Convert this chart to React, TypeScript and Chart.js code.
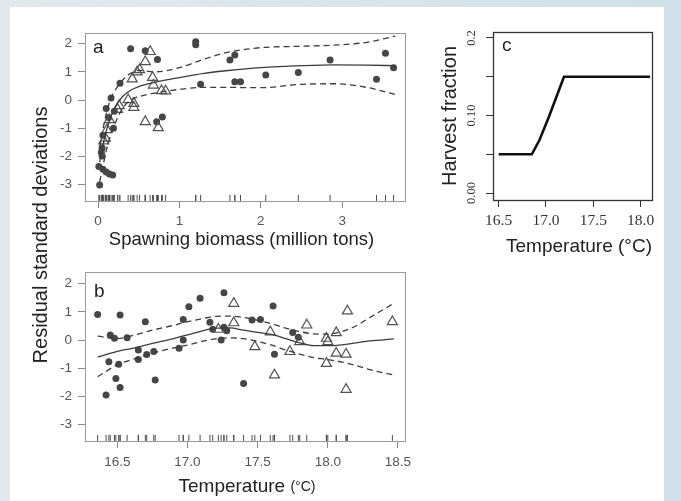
import React, { useEffect, useRef } from 'react';
import { Chart, registerables } from 'chart.js';

Chart.register(...registerables);

const SANS = "'Liberation Sans', Arial, Helvetica, sans-serif";
const SERIF = "'Liberation Serif', 'Times New Roman', serif";
Chart.defaults.font.family = SANS;

// ---------- Panel a: residuals vs spawning biomass ----------
const A_CIRC_X = [0.40, 0.58, 0.73, 0.27, 0.16, 0.10, 0.20, 0.13, 0.19, 0.06, 0.05, 0.04, 0.05, 0.01, 0.06, 0.10, 0.14, 0.18, 0.02, 0.72, 0.79, 1.20, 1.20, 1.26, 1.62, 1.68, 1.68, 1.75, 2.06, 2.46, 2.85, 3.42, 3.53, 3.63];
const A_CIRC_Y = [1.82, 1.75, 1.44, 0.60, 0.07, -0.30, -0.40, -0.62, -1.00, -1.25, -1.70, -1.85, -1.98, -2.36, -2.45, -2.55, -2.62, -2.66, -3.01, -0.77, -0.60, 2.07, 1.96, 0.56, 1.42, 1.60, 0.65, 0.65, 0.89, 0.98, 1.42, 0.74, 1.66, 1.15];
const A_TRI_X = [0.64, 0.58, 0.51, 0.48, 0.42, 0.67, 0.68, 0.78, 0.83, 0.37, 0.44, 0.44, 0.26, 0.24, 0.58, 0.74, 0.14, 0.11, 0.09, 0.07];
const A_TRI_Y = [1.72, 1.36, 1.08, 1.00, 0.75, 0.80, 0.53, 0.33, 0.32, 0.01, -0.12, -0.26, -0.20, -0.33, -0.77, -0.98, -0.70, -1.05, -1.35, -1.45];
const A_FIT_X = [0.02, 0.05, 0.10, 0.15, 0.20, 0.30, 0.40, 0.50, 0.70, 1.00, 1.30, 1.60, 2.00, 2.50, 2.90, 3.30, 3.65];
const A_FIT_Y = [-2.20, -1.75, -1.10, -0.65, -0.30, 0.12, 0.35, 0.48, 0.63, 0.80, 0.95, 1.05, 1.15, 1.22, 1.25, 1.24, 1.22];
const A_UPPER_Y = [-1.70, -1.20, -0.50, 0.00, 0.30, 0.70, 0.95, 1.05, 1.00, 1.15, 1.45, 1.70, 1.86, 1.91, 1.95, 2.05, 2.27];
const A_LOWER_Y = [-2.90, -2.50, -1.80, -1.30, -0.90, -0.30, 0.00, 0.12, 0.25, 0.38, 0.45, 0.45, 0.44, 0.56, 0.58, 0.45, 0.20];
const A_X_TICKS = [0, 1, 2, 3];
const RESID_TICKS = [-3, -2, -1, 0, 1, 2];
const RUG_Y = -3.47;

// ---------- Panel b: residuals vs temperature ----------
const B_CIRC_X = [16.36, 16.45, 16.48, 16.52, 16.44, 16.42, 16.49, 16.51, 16.52, 16.57, 16.65, 16.65, 16.70, 16.71, 16.76, 16.77, 16.94, 16.97, 16.97, 17.01, 17.09, 17.16, 17.18, 17.26, 17.24, 17.26, 17.28, 17.40, 17.46, 17.52, 17.61, 17.62, 17.75, 17.79];
const B_CIRC_Y = [0.91, 0.18, 0.06, 0.89, -0.77, -1.95, -1.36, -0.86, -1.68, 0.08, -0.35, -0.69, 0.65, -0.51, -0.41, -1.42, -0.29, 0.73, 0.00, 1.18, 1.48, 0.63, 0.38, 1.68, 0.00, 0.45, 0.33, -1.54, 0.71, 0.73, 1.21, -0.50, 0.27, 0.10];
const B_TRI_X = [17.22, 17.33, 17.33, 17.48, 17.59, 17.62, 17.73, 17.80, 17.85, 17.99, 18.00, 17.99, 18.06, 18.06, 18.13, 18.14, 18.13, 18.46];
const B_TRI_Y = [0.38, 1.30, 0.61, -0.24, 0.29, -1.24, -0.41, -0.06, 0.53, 0.06, -0.06, -0.83, 0.26, -0.47, -0.50, 1.03, -1.75, 0.65];
const B_FIT_X = [16.36, 16.50, 16.60, 16.75, 16.90, 17.00, 17.10, 17.20, 17.30, 17.40, 17.50, 17.60, 17.70, 17.80, 17.90, 18.00, 18.10, 18.20, 18.30, 18.47];
const B_FIT_Y = [-0.60, -0.40, -0.30, -0.12, 0.05, 0.18, 0.32, 0.42, 0.43, 0.35, 0.27, 0.20, 0.05, -0.10, -0.20, -0.20, -0.17, -0.10, -0.03, 0.04];
const B_UPPER_Y = [0.14, 0.05, 0.15, 0.35, 0.52, 0.65, 0.75, 0.84, 0.85, 0.80, 0.70, 0.58, 0.42, 0.30, 0.22, 0.21, 0.30, 0.50, 0.80, 1.30];
const B_LOWER_Y = [-1.30, -0.88, -0.70, -0.47, -0.28, -0.18, -0.05, 0.04, 0.08, 0.05, -0.05, -0.18, -0.35, -0.50, -0.62, -0.69, -0.78, -0.90, -1.05, -1.24];
const B_X_TICKS = [16.5, 17.0, 17.5, 18.0, 18.5];

// ---------- Panel c: harvest fraction vs temperature ----------
const C_X = [16.5, 16.85, 16.93, 17.03, 17.19, 18.1];
const C_Y = [0.05, 0.05, 0.068, 0.098, 0.15, 0.15];
const C_X_TICKS = [16.5, 17.0, 17.5, 18.0];
const C_Y_TICKS = [0, 0.05, 0.1, 0.15, 0.2];
const C_Y_LABELS = ['0.00', '', '0.10', '', '0.2'];

const pts = (xs: number[], ys: number[]) => xs.map((x, i) => ({ x, y: ys[i] }));
const rug = (xs: number[]) => xs.map((x) => ({ x, y: RUG_Y }));

const framePlugin = (color: string, width: number) => ({
  id: 'frame',
  afterDatasetsDraw(chart: any) {
    const { ctx, chartArea } = chart;
    const { left, top, right, bottom } = chartArea;
    ctx.save();
    ctx.strokeStyle = color;
    ctx.lineWidth = width;
    ctx.strokeRect(Math.round(left) + 0.5, Math.round(top) + 0.5, Math.round(right - left), Math.round(bottom - top));
    ctx.restore();
  },
});

const panelLabel = (text: string, dx: number, dy: number) => ({
  id: 'panelLabel',
  afterDraw(chart: any) {
    const { ctx, chartArea } = chart;
    ctx.save();
    ctx.font = `19px ${SANS}`;
    ctx.fillStyle = '#1e1e1e';
    ctx.textAlign = 'left';
    ctx.textBaseline = 'alphabetic';
    ctx.fillText(text, chartArea.left + dx, chartArea.top + dy);
    ctx.restore();
  },
});

const xTitle = (parts: { text: string; size: number }[], dx: number, dy: number) => ({
  id: 'xTitle',
  afterDraw(chart: any) {
    const { ctx, chartArea } = chart;
    ctx.save();
    ctx.fillStyle = '#222';
    ctx.textAlign = 'left';
    ctx.textBaseline = 'middle';
    const widths = parts.map((p) => {
      ctx.font = `${p.size}px ${SANS}`;
      return ctx.measureText(p.text).width;
    });
    const total = widths.reduce((a, b) => a + b, 0);
    let x = (chartArea.left + chartArea.right) / 2 + dx - total / 2;
    const y = chartArea.bottom + dy;
    parts.forEach((p, i) => {
      ctx.font = `${p.size}px ${SANS}`;
      ctx.fillText(p.text, x, y);
      x += widths[i];
    });
    ctx.restore();
  },
});

type AxisOpts = {
  min: number;
  max: number;
  ticks: number[];
  horizontal: boolean;
  size: number;
  label: (v: number) => string;
  font: any;
  color: string;
  tickColor: string;
  padding: number;
  extra?: any;
  title?: any;
};

const axis = (o: AxisOpts) => ({
  type: 'linear',
  position: o.horizontal ? 'bottom' : 'left',
  min: o.min,
  max: o.max,
  afterBuildTicks: (s: any) => {
    s.ticks = o.ticks.map((v) => ({ value: v }));
  },
  afterFit: (s: any) => {
    if (o.horizontal) s.height = o.size;
    else s.width = o.size;
  },
  border: { display: false },
  grid: { display: true, drawOnChartArea: false, drawTicks: true, tickLength: 7, color: o.tickColor, lineWidth: 1 },
  ticks: {
    autoSkip: false,
    font: o.font,
    color: o.color,
    padding: o.padding,
    maxRotation: 0,
    minRotation: 0,
    callback: (v: any) => o.label(Number(v)),
    ...(o.extra || {}),
  },
  title: o.title || { display: false },
});

const baseOptions = (padding: any, scales: any) => ({
  responsive: false,
  maintainAspectRatio: false,
  animation: false,
  devicePixelRatio: 1,
  events: [],
  layout: { padding },
  plugins: { legend: { display: false }, tooltip: { enabled: false }, title: { display: false } },
  scales,
});

const circleDs = (data: any) => ({
  data,
  pointStyle: 'circle',
  pointRadius: 3.5,
  pointBackgroundColor: '#464646',
  pointBorderColor: '#464646',
  pointBorderWidth: 0,
  showLine: false,
  order: 3,
});
const triDs = (data: any) => ({
  data,
  pointStyle: 'triangle',
  pointRadius: 5.8,
  pointBackgroundColor: 'rgba(255,255,255,0)',
  pointBorderColor: '#505050',
  pointBorderWidth: 1.2,
  showLine: false,
  order: 2,
});
const lineDs = (data: any, dash: number[]) => ({
  data,
  showLine: true,
  borderColor: '#3c3c3c',
  borderWidth: 1.3,
  borderDash: dash,
  pointRadius: 0,
  cubicInterpolationMode: 'monotone',
  fill: false,
  order: 1,
});
const rugDs = (data: any) => ({
  data,
  pointStyle: 'line',
  pointRotation: 90,
  pointRadius: 3,
  pointBorderColor: '#4a4a4a',
  borderColor: '#4a4a4a',
  pointBorderWidth: 1,
  showLine: false,
  order: 4,
});

const residTickFont = { size: 13.5, family: SANS };

const configA = () => ({
  type: 'scatter',
  data: {
    datasets: [
      circleDs(pts(A_CIRC_X, A_CIRC_Y)),
      triDs(pts(A_TRI_X, A_TRI_Y)),
      lineDs(pts(A_FIT_X, A_FIT_Y), []),
      lineDs(pts(A_FIT_X, A_UPPER_Y), [6, 4]),
      lineDs(pts(A_FIT_X, A_LOWER_Y), [6, 4]),
      rugDs(rug(A_CIRC_X.concat(A_TRI_X))),
    ],
  },
  options: baseOptions({ top: 33, right: 15, left: 0, bottom: 0 }, {
    x: axis({ min: -0.16, max: 3.77, ticks: A_X_TICKS, horizontal: true, size: 57, label: (v) => String(v), font: residTickFont, color: '#555', tickColor: '#888', padding: 5 }),
    y: axis({ min: -3.58, max: 2.38, ticks: RESID_TICKS, horizontal: false, size: 85, label: (v) => String(v), font: residTickFont, color: '#555', tickColor: '#888', padding: 6 }),
  }),
  plugins: [framePlugin('#9a9a9a', 1), panelLabel('a', 8, 20), xTitle([{ text: 'Spawning biomass (million tons)', size: 18.5 }], -3.5, 39)],
});

const configB = () => ({
  type: 'scatter',
  data: {
    datasets: [
      circleDs(pts(B_CIRC_X, B_CIRC_Y)),
      triDs(pts(B_TRI_X, B_TRI_Y)),
      lineDs(pts(B_FIT_X, B_FIT_Y), []),
      lineDs(pts(B_FIT_X, B_UPPER_Y), [6, 4]),
      lineDs(pts(B_FIT_X, B_LOWER_Y), [6, 4]),
      rugDs(rug(B_CIRC_X.concat(B_TRI_X))),
    ],
  },
  options: baseOptions({ top: 14, right: 15, left: 0, bottom: 0 }, {
    x: axis({ min: 16.27, max: 18.55, ticks: B_X_TICKS, horizontal: true, size: 60, label: (v) => v.toFixed(1), font: residTickFont, color: '#555', tickColor: '#888', padding: 6 }),
    y: axis({ min: -3.58, max: 2.41, ticks: RESID_TICKS, horizontal: false, size: 85, label: (v) => String(v), font: residTickFont, color: '#555', tickColor: '#888', padding: 6 }),
  }),
  plugins: [framePlugin('#9a9a9a', 1), panelLabel('b', 9, 24.5), xTitle([{ text: 'Temperature ', size: 19 }, { text: '(°C)', size: 14 }], 2, 46)],
});

const configC = () => ({
  type: 'scatter',
  data: {
    datasets: [
      {
        data: pts(C_X, C_Y),
        showLine: true,
        borderColor: '#111',
        borderWidth: 2.6,
        pointRadius: 0,
        tension: 0,
        fill: false,
      },
    ],
  },
  options: baseOptions({ top: 32, right: 29, left: 0, bottom: 0 }, {
    x: axis({ min: 16.44, max: 18.12, ticks: C_X_TICKS, horizontal: true, size: 70, label: (v) => v.toFixed(1), font: { size: 15.5, family: SERIF }, color: '#333', tickColor: '#333', padding: 5 }),
    y: axis({
      min: -0.009, max: 0.2077, ticks: C_Y_TICKS, horizontal: false, size: 73,
      label: (v) => { const i = C_Y_TICKS.findIndex((t) => Math.abs(t - v) < 1e-9); return i >= 0 ? C_Y_LABELS[i] : ''; },
      font: { size: 12.5, family: SERIF }, color: '#333', tickColor: '#333', padding: 3,
      extra: { minRotation: 90, maxRotation: 90, crossAlign: 'center' },
      title: { display: true, text: 'Harvest fraction', color: '#222', font: { size: 20, family: SANS }, padding: { top: 18, bottom: 0 } },
    }),
  }),
  plugins: [framePlugin('#333', 1.3), panelLabel('c', 9, 18.7), xTitle([{ text: 'Temperature (°C)', size: 19 }], 6.5, 47)],
});

function ChartCanvas({ left, top, width, height, makeConfig }: any) {
  const ref = useRef<HTMLCanvasElement | null>(null);
  useEffect(() => {
    const chart = new Chart(ref.current as HTMLCanvasElement, makeConfig());
    return () => chart.destroy();
  }, []);
  return (
    <canvas
      ref={ref}
      width={width}
      height={height}
      style={{ position: 'absolute', left, top, width, height, display: 'block' }}
    />
  );
}

export default function App() {
  return (
    <div
      style={{
        position: 'absolute',
        left: 0,
        top: 0,
        width: 681,
        height: 501,
        overflow: 'hidden',
        background: 'linear-gradient(90deg, #e1e9ed 0%, #d9e5eb 50%, #cfe0e8 100%)',
        fontFamily: SANS,
      }}
    >
      <div style={{ position: 'absolute', left: 10, top: 7, width: 654, height: 494, background: '#ffffff' }} />
      <ChartCanvas left={0} top={0} width={420} height={258} makeConfig={configA} />
      <ChartCanvas left={0} top={258} width={420} height={243} makeConfig={configB} />
      <ChartCanvas left={420} top={0} width={261} height={270} makeConfig={configC} />
      <div
        style={{
          position: 'absolute',
          left: 40 - 160,
          top: 235 - 13,
          width: 320,
          height: 26,
          lineHeight: '26px',
          fontSize: 20,
          color: '#222',
          textAlign: 'center',
          whiteSpace: 'nowrap',
          transform: 'rotate(-90deg)',
          transformOrigin: '50% 50%',
        }}
      >
        Residual standard deviations
      </div>
    </div>
  );
}
